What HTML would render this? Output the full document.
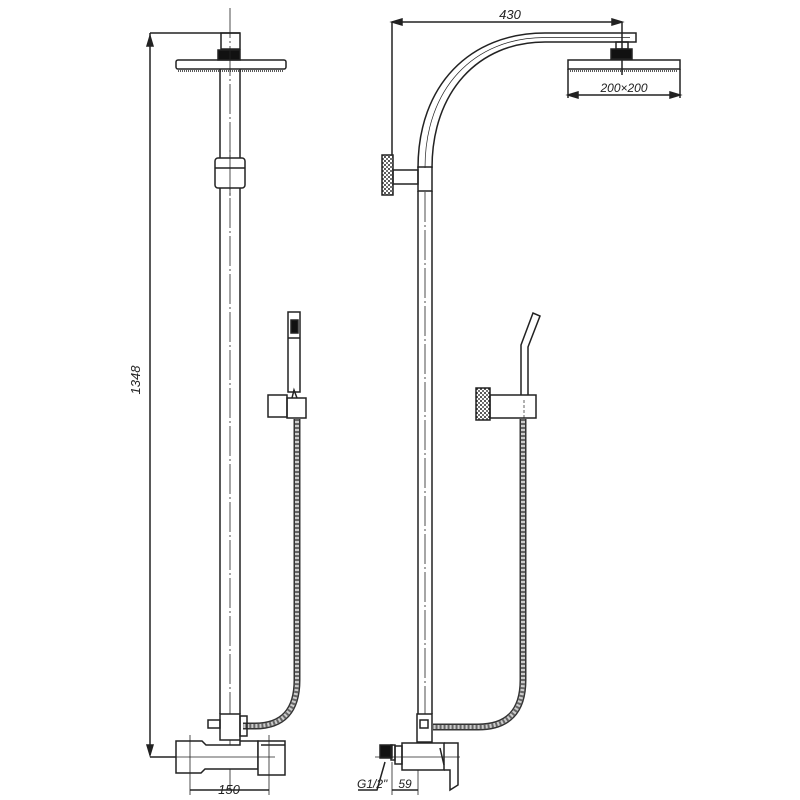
<!DOCTYPE html>
<html><head><style>html,body{margin:0;padding:0;background:#fff}svg{display:block}</style></head>
<body>
<svg width="800" height="800" viewBox="0 0 800 800" xmlns="http://www.w3.org/2000/svg" font-family="Liberation Sans, sans-serif">
<defs>
<pattern id="hz" width="4" height="4" patternUnits="userSpaceOnUse"><rect width="4" height="4" fill="#fff"/><circle cx="1" cy="1" r="1" fill="#222"/><circle cx="3" cy="3" r="1" fill="#444"/></pattern>
</defs>
<g fill="none" stroke="#222" stroke-width="1.5">
<line x1="150" y1="33" x2="150" y2="755"/>
<line x1="150" y1="33" x2="240" y2="33"/>
<line x1="150" y1="757" x2="178" y2="757"/>
<path d="M147,46 L150,36 L153,46Z" fill="#222"/>
<path d="M147,745 L150,755 L153,745Z" fill="#222"/>
<rect x="221" y="33" width="19" height="16"/>
<rect x="218" y="50" width="22" height="10" fill="#111"/>
<rect x="176" y="60" width="110" height="9" rx="2"/>
<line x1="178" y1="71" x2="284" y2="71" stroke-dasharray="1 1"/>
<line x1="220" y1="69" x2="220" y2="714"/>
<line x1="240" y1="69" x2="240" y2="714"/>
<line x1="230" y1="8" x2="230" y2="790" stroke-width="0.8" stroke-dasharray="30 3 2 3"/>
<rect x="215" y="158" width="30" height="30" rx="3" fill="#fff"/>
<line x1="215" y1="168" x2="245" y2="168"/>
<line x1="230" y1="150" x2="230" y2="196" stroke-width="0.8"/>
<rect x="288" y="312" width="12" height="80"/>
<rect x="291" y="320" width="7" height="13" fill="#111"/>
<line x1="288" y1="338" x2="300" y2="338"/>
<rect x="268" y="395" width="19" height="22"/>
<rect x="287" y="398" width="19" height="20"/>
<path d="M292,398 L294,390 L297,398"/>
<path d="M297,419 L297,680 Q297,726 255,726 L243,726" stroke="#333" stroke-width="7"/>
<path d="M297,419 L297,680 Q297,726 255,726 L243,726" stroke="#ccc" stroke-width="4"/>
<path d="M297,419 L297,680 Q297,726 255,726 L243,726" stroke="#666" stroke-width="4" stroke-dasharray="2 2"/>
<rect x="220" y="714" width="20" height="26" fill="#fff"/>
<rect x="208" y="720" width="12" height="8"/>
<rect x="240" y="716" width="7" height="20"/>
<path d="M176,741 L202,741 L206,745 L240,745 L240,741 L258,741 L258,769 L205,769 L201,773 L176,773 Z" fill="#fff"/>
<rect x="258" y="741" width="27" height="34" fill="#fff"/>
<line x1="261" y1="745" x2="285" y2="745"/>
<line x1="190" y1="735" x2="190" y2="795" stroke-width="0.8"/>
<line x1="269" y1="735" x2="269" y2="795" stroke-width="0.8"/>
<line x1="172" y1="757" x2="275" y2="757" stroke-width="0.8"/>
<line x1="190" y1="790" x2="269" y2="790"/>
<line x1="392" y1="22" x2="622" y2="22"/>
<line x1="392" y1="22" x2="392" y2="160"/>
<line x1="622" y1="22" x2="622" y2="75"/>
<path d="M402,19 L392,22 L402,25Z" fill="#222"/>
<path d="M612,19 L622,22 L612,25Z" fill="#222"/>
<path d="M418,168 C418,85 470,33 545,33 L636,33 L636,42 L545,42 C478,42 432,92 432,168"/>
<path d="M425,168 C425,88 474,37.5 545,37.5 L630,37.5" stroke-width="0.7"/>
<rect x="616" y="42" width="12" height="7"/>
<rect x="611" y="49" width="21" height="10" fill="#111"/>
<rect x="568" y="60" width="112" height="9"/>
<line x1="570" y1="71" x2="678" y2="71" stroke-dasharray="1 1"/>
<line x1="568" y1="69" x2="568" y2="98"/>
<line x1="680" y1="69" x2="680" y2="98"/>
<line x1="568" y1="95" x2="680" y2="95"/>
<path d="M578,92 L568,95 L578,98Z" fill="#222"/>
<path d="M670,92 L680,95 L670,98Z" fill="#222"/>
<rect x="382" y="155" width="11" height="40" fill="url(#hz)"/>
<rect x="393" y="170" width="25" height="14"/>
<rect x="418" y="167" width="14" height="24"/>
<line x1="418" y1="191" x2="418" y2="714"/>
<line x1="432" y1="191" x2="432" y2="714"/>
<line x1="425" y1="192" x2="425" y2="714" stroke-width="0.8" stroke-dasharray="30 3 2 3"/>
<rect x="476" y="388" width="14" height="32" fill="url(#hz)"/>
<rect x="490" y="395" width="46" height="23"/>
<path d="M521,395 L521,345 L533,313 L540,316 L528,347 L528,395"/>
<line x1="524" y1="400" x2="524" y2="420" stroke-width="0.7" stroke-dasharray="3 2"/>
<path d="M523,419 L523,680 Q523,727 478,727 L433,727" stroke="#333" stroke-width="7"/>
<path d="M523,419 L523,680 Q523,727 478,727 L433,727" stroke="#ccc" stroke-width="4"/>
<path d="M523,419 L523,680 Q523,727 478,727 L433,727" stroke="#666" stroke-width="4" stroke-dasharray="2 2"/>
<rect x="417" y="714" width="15" height="28" fill="#fff"/>
<rect x="420" y="720" width="8" height="8"/>
<rect x="402" y="743" width="42" height="27" fill="#fff"/>
<path d="M444,743 L458,743 L458,785 L450,790 L450,770 L444,770"/>
<line x1="440" y1="748" x2="444" y2="765"/>
<rect x="395" y="746" width="7" height="18"/>
<rect x="380" y="745" width="12" height="13" fill="#111"/>
<rect x="391" y="745" width="4" height="15"/>
<line x1="375" y1="757" x2="460" y2="757" stroke-width="0.8"/>
<line x1="392" y1="762" x2="392" y2="795" stroke-width="0.8"/>
<line x1="418" y1="770" x2="418" y2="795" stroke-width="0.8"/>
<line x1="392" y1="790" x2="418" y2="790"/>
<path d="M385,762 L377,790 L358,790"/>
</g>
<g fill="#222" font-style="italic" font-size="13">
<text x="140" y="380" transform="rotate(-90 140 380)" text-anchor="middle">1348</text>
<text x="229" y="794" text-anchor="middle">150</text>
<text x="510" y="19" text-anchor="middle">430</text>
<text x="624" y="92" text-anchor="middle" font-size="12">200×200</text>
<text x="357" y="788" font-size="12">G1/2"</text>
<text x="405" y="788" text-anchor="middle" font-size="12">59</text>
</g>
</svg>
</body></html>
